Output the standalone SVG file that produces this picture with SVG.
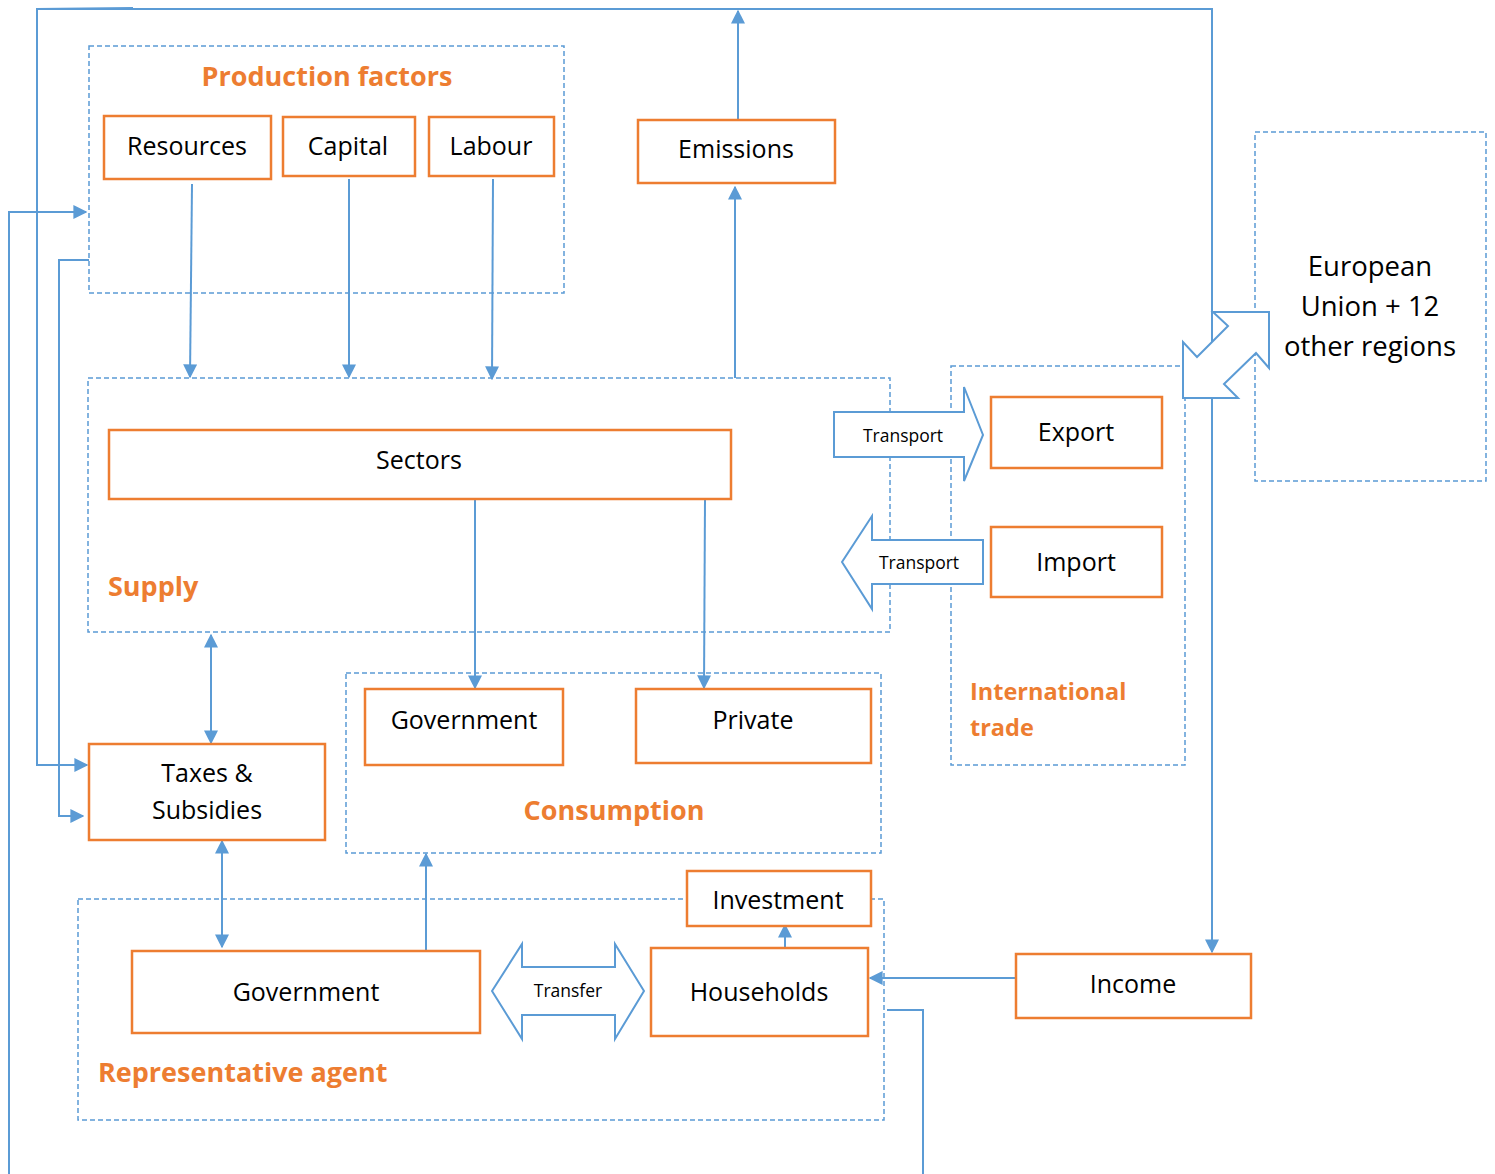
<svg xmlns="http://www.w3.org/2000/svg" width="1495" height="1174" viewBox="0 0 1495 1174">
<style>
.box{fill:#fff;stroke:#ED7D31;stroke-width:2.5}
.grp{fill:none;stroke:#5B9BD5;stroke-width:1.5;stroke-dasharray:5 3}
.ln{fill:none;stroke:#5B9BD5;stroke-width:2}
.big{fill:#fff;stroke:#5B9BD5;stroke-width:2}
.t{font-family:"Open Sans",Lato,sans-serif;font-size:25px;fill:#000;text-anchor:middle}
.s{font-family:"Open Sans",Lato,sans-serif;font-size:17.5px;fill:#000;text-anchor:middle}
.o{font-family:"Open Sans",Lato,sans-serif;font-size:27px;font-weight:bold;fill:#ED7D31}
.o.it{font-size:23.5px}
.t.eu{font-size:27.5px}
</style>
<defs>
<marker id="a" viewBox="0 0 10 10" refX="9" refY="5" markerWidth="7" markerHeight="7" orient="auto-start-reverse" markerUnits="strokeWidth">
<path d="M0,0 L10,5 L0,10 z" fill="#5B9BD5"/>
</marker>
</defs>

<g id="groups">
<rect id="g-pf" class="grp" x="89" y="46" width="475" height="247"/>
<rect id="g-supply" class="grp" x="88" y="378" width="802" height="254"/>
<rect id="g-trade" class="grp" x="951" y="366" width="234" height="399"/>
<rect id="g-eu" class="grp" x="1255" y="132" width="231" height="349"/>
<rect id="g-cons" class="grp" x="346" y="673" width="535" height="180"/>
<rect id="g-agent" class="grp" x="78" y="899" width="806" height="221"/>
</g>

<g id="connectors">
<path class="ln" d="M192,184 L190,377" marker-end="url(#a)"/>
<path class="ln" d="M349,179 L349,377" marker-end="url(#a)"/>
<path class="ln" d="M493,179 L492,379" marker-end="url(#a)"/>
<path class="ln" d="M735,378 L735,187" marker-end="url(#a)"/>
<path class="ln" d="M738,119 L738,11" marker-end="url(#a)"/>
<path class="ln" d="M475,499 L475,688" marker-end="url(#a)"/>
<path class="ln" d="M705,499 L704,688" marker-end="url(#a)"/>
<path class="ln" d="M211,635 L211,743" marker-start="url(#a)" marker-end="url(#a)"/>
<path class="ln" d="M222,841 L222,947" marker-start="url(#a)" marker-end="url(#a)"/>
<path class="ln" d="M426,951 L426,854" marker-end="url(#a)"/>
<path class="ln" d="M785,948 L785,925" marker-end="url(#a)"/>
<path class="ln" d="M1016,978 L870,978" marker-end="url(#a)"/>
<path class="ln" d="M37,9 L133,8"/>
<path class="ln" d="M87,765 L37,765 L37,9 L1212,9 L1212,952" marker-start="url(#a)" marker-end="url(#a)"/>
<path class="ln" d="M89,260 L59,260 L59,816 L83,816" marker-end="url(#a)"/>
<path class="ln" d="M9,1174 L9,212 L86,212" marker-end="url(#a)"/>
<path class="ln" d="M887,1010 L923,1010 L923,1174"/>
</g>

<g id="n-eu-arrow"><path class="big" d="M1213,312 L1269,312 L1269,368 L1256,353 L1224,384 L1238,398 L1183,398 L1183,342 L1197,357 L1228,326 Z"/></g>
<g id="n-transport-out"><path class="big" d="M834,412 L964,412 L964,387 L983,435 L964,481 L964,457 L834,457 Z"/><text class="s" x="903" y="442">Transport</text></g>
<g id="n-transport-in"><path class="big" d="M983,540 L872,540 L872,516 L842,562 L872,609 L872,584 L983,584 Z"/><text class="s" x="919" y="569">Transport</text></g>
<g id="n-transfer"><path class="big" d="M492,991 L522,944 L522,967 L615,967 L615,944 L644,991 L615,1039 L615,1015 L522,1015 L522,1039 Z"/><text class="s" x="568" y="997">Transfer</text></g>

<g id="labels">
<text class="o" x="327" y="86" text-anchor="middle">Production factors</text>
<text class="o" x="108" y="596">Supply</text>
<text class="o it" x="970" y="700">International</text>
<text class="o it" x="970" y="736">trade</text>
<text class="o" x="614" y="820" text-anchor="middle">Consumption</text>
<text class="o" x="98" y="1082">Representative agent</text>
</g>

<g id="n-resources"><rect class="box" x="104" y="116" width="167" height="63"/><text class="t" x="187" y="155">Resources</text></g>
<g id="n-capital"><rect class="box" x="283" y="117" width="132" height="59"/><text class="t" x="348" y="155">Capital</text></g>
<g id="n-labour"><rect class="box" x="429" y="117" width="125" height="59"/><text class="t" x="491" y="155">Labour</text></g>
<g id="n-emissions"><rect class="box" x="638" y="120" width="197" height="63"/><text class="t" x="736" y="158">Emissions</text></g>
<g id="n-sectors"><rect class="box" x="109" y="430" width="622" height="69"/><text class="t" x="419" y="469">Sectors</text></g>
<g id="n-export"><rect class="box" x="991" y="397" width="171" height="71"/><text class="t" x="1076" y="441">Export</text></g>
<g id="n-import"><rect class="box" x="991" y="527" width="171" height="70"/><text class="t" x="1076" y="571">Import</text></g>
<g id="n-eu"><text class="t eu"><tspan x="1370" y="276">European</tspan><tspan x="1370" y="316">Union + 12</tspan><tspan x="1370" y="356">other regions</tspan></text></g>
<g id="n-gov-cons"><rect class="box" x="365" y="689" width="198" height="76"/><text class="t" x="464" y="729">Government</text></g>
<g id="n-private"><rect class="box" x="636" y="689" width="235" height="74"/><text class="t" x="753" y="729">Private</text></g>
<g id="n-taxes"><rect class="box" x="89" y="744" width="236" height="96"/><text class="t"><tspan x="207" y="782">Taxes &amp;</tspan><tspan x="207" y="819">Subsidies</tspan></text></g>
<g id="n-investment"><rect class="box" x="687" y="871" width="184" height="55"/><text class="t" x="778" y="909">Investment</text></g>
<g id="n-gov-agent"><rect class="box" x="132" y="951" width="348" height="82"/><text class="t" x="306" y="1001">Government</text></g>
<g id="n-households"><rect class="box" x="651" y="948" width="217" height="88"/><text class="t" x="759" y="1001">Households</text></g>
<g id="n-income"><rect class="box" x="1016" y="954" width="235" height="64"/><text class="t" x="1133" y="993">Income</text></g>
</svg>
